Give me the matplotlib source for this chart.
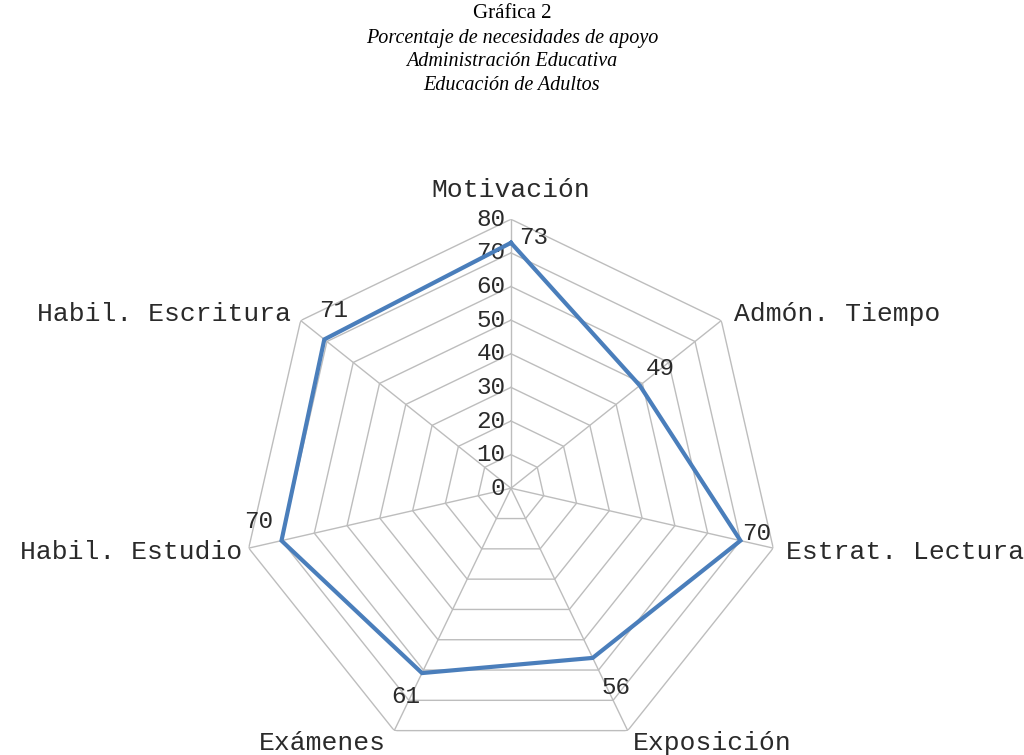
import numpy as np
import matplotlib
matplotlib.use("Agg")
import matplotlib.pyplot as plt

categorias = ["Motivación", "Admón. Tiempo", "Estrat. Lectura", "Exposición",
              "Exámenes", "Habil. Estudio", "Habil. Escritura"]
valores = [73, 49, 70, 56, 61, 70, 71]
niveles = [10, 20, 30, 40, 50, 60, 70, 80]
titulo = "Gráfica 2"
subtitulos = ["Porcentaje de necesidades de apoyo", "Administración Educativa",
              "Educación de Adultos"]

mono = "Liberation Mono"
serif = "Liberation Serif"
gris = "#bdbdbd"
azul = "#4a7ebb"
txt = "#2a2a2a"

n = len(categorias)
theta = np.linspace(0, 2 * np.pi, n, endpoint=False)
theta_c = np.append(theta, theta[0])

fig = plt.figure(figsize=(10.24, 7.55), dpi=100)
ax = fig.add_axes([0.2363, -0.003, 0.5254, 0.7126], projection="polar")
ax.set_theta_offset(np.pi / 2)
ax.set_theta_direction(-1)
ax.set_ylim(0, 80)
ax.grid(False)
ax.spines["polar"].set_visible(False)
ax.set_xticks([])
ax.set_yticks([])
ax.patch.set_alpha(0)

# rejilla poligonal
for lv in niveles:
    ax.plot(theta_c, [lv] * (n + 1), color=gris, lw=1, zorder=1)
for t in theta:
    ax.plot([t, t], [0, 80], color=gris, lw=1, zorder=1)

# etiquetas del eje radial
for lv in [0] + niveles:
    ax.annotate(str(lv), xy=(0, lv), xytext=(-4, 0), textcoords="offset points",
                ha="right", va="center", fontsize=17.5, family=mono, color=txt)

ax.plot(theta_c, valores + [valores[0]], color=azul, lw=3, zorder=3,
        solid_joinstyle="miter")

# etiquetas de datos
off_val = [(6, 4, "left"), (4, 12, "left"), (1.5, 5, "left"), (6, -21, "left"),
           (-1.5, -17, "right"), (-6, 14, "right"), (7, 21, "center")]
for t, v, (dx, dy, ha) in zip(theta, valores, off_val):
    ax.annotate(str(v), xy=(t, v), xytext=(dx, dy), textcoords="offset points",
                ha=ha, va="center", fontsize=17.5, family=mono, color=txt)

# etiquetas de categoria
off_cat = [(0, 21, "center"), (9, 5, "left"), (9, -3, "left"), (4, -9, "left"),
           (-6, -9, "right"), (-5, -3, "right"), (-7, 5, "right")]
for t, c, (dx, dy, ha) in zip(theta, categorias, off_cat):
    ax.annotate(c, xy=(t, 80), xytext=(dx, dy), textcoords="offset points",
                ha=ha, va="center", fontsize=19, family=mono, color=txt,
                annotation_clip=False)

fig.text(0.5, 1 - 14 / 755, titulo, ha="center", va="center", fontsize=15,
         family=serif)
for i, s in enumerate(subtitulos):
    fig.text(0.5, 1 - (38 + 24 * i) / 755, s, ha="center", va="center",
             fontsize=14.5, family=serif, style="italic")

fig.savefig("out.png", dpi=100)
